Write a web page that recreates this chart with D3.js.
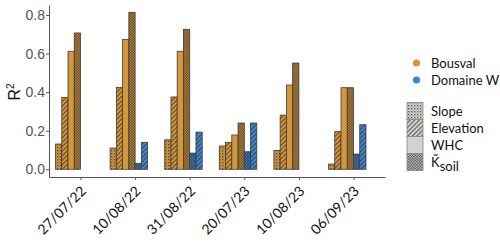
<!DOCTYPE html>
<html><head><meta charset="utf-8">
<script src="https://cdn.jsdelivr.net/npm/d3@7"></script>
<style>body{margin:0;background:#fff}svg{display:block}</style>
</head><body>
<svg id="c" width="500" height="243"></svg>
<script>
const dates = ["27/07/22","10/08/22","31/08/22","20/07/23","10/08/23","06/09/23"];
const sites = ["Bousval","Domaine W"];
const variables = ["Slope","Elevation","WHC","Ksoil"];
const bousval = {
  Slope:     [0.131,0.110,0.153,0.121,0.098,0.027],
  Elevation: [0.373,0.425,0.375,0.140,0.281,0.195],
  WHC:       [0.612,0.674,0.612,0.178,0.437,0.423],
  Ksoil:     [0.707,0.814,0.726,0.240,0.551,0.423]
};
// Domaine W: two bars per date (null = not present)
const domaineKsoil     = [null,0.031,0.084,0.091,null,0.079];
const domaineElevation = [null,0.140,0.193,0.240,null,0.231];
const yTicks = [0,0.2,0.4,0.6,0.8];
const siteColors = {"Bousval":"#d4973b","Domaine W":"#3a88d2"};

// Build rows
const rows = [];
dates.forEach((d,i)=>{
  variables.forEach((v,j)=>rows.push({date:d, site:"Bousval", variable:v, slot:j, value:bousval[v][i]}));
  if (domaineKsoil[i]!=null) rows.push({date:d, site:"Domaine W", variable:"Ksoil", slot:4, value:domaineKsoil[i]});
  if (domaineElevation[i]!=null) rows.push({date:d, site:"Domaine W", variable:"Elevation", slot:5, value:domaineElevation[i]});
});

const svg = d3.select("#c");
const defs = svg.append("defs");
function pat(id, draw){
  const p = defs.append("pattern").attr("id",id).attr("patternUnits","userSpaceOnUse");
  draw(p);
}
pat("p-Slope", p=>{
  p.attr("width",3).attr("height",3);
  p.append("rect").attr("x",0).attr("y",0).attr("width",1.3).attr("height",1.3).attr("fill","#3a3026").attr("opacity",0.8);
  p.append("rect").attr("x",1.5).attr("y",1.5).attr("width",1.0).attr("height",1.0).attr("fill","#3a3026").attr("opacity",0.5);
});
pat("p-Elevation", p=>{
  p.attr("width",3.2).attr("height",3.2).attr("patternTransform","rotate(45)");
  p.append("rect").attr("x",0).attr("y",0).attr("width",1.1).attr("height",3.2).attr("fill","#3a3026").attr("opacity",0.75);
});
pat("p-WHC", p=>{ p.attr("width",4).attr("height",4); });
pat("p-Ksoil", p=>{
  p.attr("width",2.6).attr("height",2.6);
  p.append("rect").attr("x",0).attr("y",0).attr("width",1.3).attr("height",1.3).attr("fill","#2e2820").attr("opacity",0.85);
  p.append("rect").attr("x",1.3).attr("y",1.3).attr("width",1.3).attr("height",1.3).attr("fill","#2e2820").attr("opacity",0.85);
});

const x = d3.scalePoint().domain(dates).range([49,385]).padding(0.577);
const slot = d3.scaleBand().domain(d3.range(8)).range([-25,25]).padding(0);
const y = d3.scaleLinear().domain([-0.04,0.852]).range([177,5]);

// bars
const g = svg.append("g");
rows.forEach(r=>{
  const bx = x(r.date)+slot(r.slot), bw = slot.bandwidth();
  const y0 = y(0), y1 = y(r.value);
  g.append("rect").attr("x",bx).attr("y",y1).attr("width",bw).attr("height",y0-y1)
    .attr("fill",siteColors[r.site]);
  g.append("rect").attr("x",bx).attr("y",y1).attr("width",bw).attr("height",y0-y1)
    .attr("fill",`url(#p-${r.variable})`).attr("stroke","#3d3d3d").attr("stroke-width",0.8);
});

// axes
const ya = svg.append("g").attr("transform","translate(49,0)")
  .call(d3.axisLeft(y).tickValues(yTicks).tickFormat(d3.format(".1f")).tickSize(3).tickSizeOuter(0));
ya.select(".domain").attr("stroke","#555");
ya.selectAll(".tick line").attr("stroke","#555");
ya.selectAll(".tick text").attr("fill","#555").attr("font-family","Liberation Sans, Arial, sans-serif").attr("font-size",14).attr("x",-4);

const xa = svg.append("g").attr("transform","translate(0,177)")
  .call(d3.axisBottom(x).tickSize(3).tickSizeOuter(0));
xa.select(".domain").attr("stroke","#555");
xa.selectAll(".tick line").attr("stroke","#555");
xa.selectAll(".tick text").attr("fill","#111").attr("font-family","Lato, sans-serif").attr("font-size",14)
  .attr("text-anchor","end").attr("dy",0).attr("y",0)
  .attr("transform","translate(6,15) rotate(-45)");

// y title
svg.append("text").attr("transform","translate(20,92) rotate(-90)").attr("text-anchor","middle")
  .attr("font-family","Liberation Sans, Arial, sans-serif").attr("font-size",16).attr("fill","#111")
  .html('R<tspan dy="-6" font-size="10">2</tspan>');

// legend: sites
const lg = svg.append("g");
sites.forEach((s,i)=>{
  const cy = 63 + i*17;
  lg.append("circle").attr("cx",416.5).attr("cy",cy).attr("r",3.6).attr("fill",siteColors[s]);
  lg.append("text").attr("x",431).attr("y",cy).attr("dy","0.35em").attr("font-family","Lato, sans-serif")
    .attr("font-size",13).attr("fill","#111").text(s);
});
// legend: variables
const labels = {"Slope":"Slope","Elevation":"Elevation","WHC":"WHC"};
variables.forEach((v,i)=>{
  const top = 102.5 + i*17;
  lg.append("rect").attr("x",407).attr("y",top).attr("width",16).attr("height",17).attr("fill","#d3d3d3");
  lg.append("rect").attr("x",407).attr("y",top).attr("width",16).attr("height",17)
    .attr("fill",`url(#p-${v})`).attr("stroke","#888").attr("stroke-width",0.8);
  const t = lg.append("text").attr("x",431).attr("y",top+8.5).attr("dy","0.35em").attr("font-family","Lato, sans-serif")
    .attr("font-size",13).attr("fill","#111");
  if (v==="Ksoil"){
    t.append("tspan").text("K\u0303");
    t.append("tspan").attr("dy",4).attr("font-size",13).text("soil");
  } else t.text(labels[v]);
});
</script>
</body></html>
